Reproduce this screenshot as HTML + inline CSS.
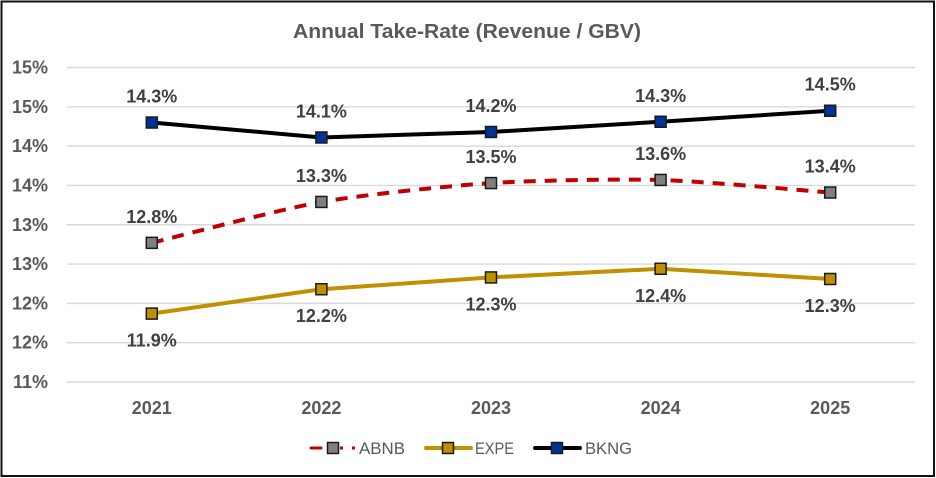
<!DOCTYPE html>
<html>
<head>
<meta charset="utf-8">
<style>
html,body{margin:0;padding:0;background:#fff;}
svg{display:block;font-family:"Liberation Sans",sans-serif;}
</style>
</head>
<body>
<svg id="chart" width="936" height="478" viewBox="0 0 936 478" xmlns="http://www.w3.org/2000/svg">
<rect x="1.5" y="1.5" width="932.5" height="474.5" fill="#fff" stroke="#111" stroke-width="2"/>
<text x="467" y="38" text-anchor="middle" font-size="20.5" font-weight="bold" fill="#595959" textLength="348" lengthAdjust="spacingAndGlyphs">Annual Take-Rate (Revenue / GBV)</text>
<g id="grid"></g>
<g id="series"></g>
<g id="labels"></g>
<g id="legend"></g>
</svg>
<script>
const categories = ['2021', '2022', '2023', '2024', '2025'];
const yTicks = [11, 11.5, 12, 12.5, 13, 13.5, 14, 14.5, 15];
const yTickLabels = ['11%', '12%', '12%', '13%', '13%', '14%', '14%', '15%', '15%'];
const abnbValues = [12.77, 13.29, 13.53, 13.57, 13.41];
const expeValues = [11.87, 12.18, 12.33, 12.44, 12.31];
const bkngValues = [14.30, 14.11, 14.18, 14.31, 14.45];
const abnbLabels = ['12.8%', '13.3%', '13.5%', '13.6%', '13.4%'];
const expeLabels = ['11.9%', '12.2%', '12.3%', '12.4%', '12.3%'];
const bkngLabels = ['14.3%', '14.1%', '14.2%', '14.3%', '14.5%'];

const NS = 'http://www.w3.org/2000/svg';
const plotLeft = 67, plotRight = 915, plotTop = 67.5, plotBottom = 382;
const yMin = yTicks[0], yMax = yTicks[yTicks.length - 1];
function xScale(i) { return plotLeft + (plotRight - plotLeft) * (i + 0.5) / categories.length; }
function yScale(v) { return plotBottom - (v - yMin) / (yMax - yMin) * (plotBottom - plotTop); }
function mk(tag, attrs, parent, txt) {
  const el = document.createElementNS(NS, tag);
  for (const k in attrs) el.setAttribute(k, attrs[k]);
  if (txt !== undefined) el.textContent = txt;
  parent.appendChild(el);
  return el;
}
function linePath(vals, tension) {
  const p = vals.map((v, i) => [xScale(i), yScale(v)]);
  let d = 'M' + p[0][0] + ' ' + p[0][1];
  for (let i = 0; i < p.length - 1; i++) {
    const a = p[Math.max(i - 1, 0)], b = p[i], c = p[i + 1], e = p[Math.min(i + 2, p.length - 1)];
    const c1x = b[0] + (c[0] - a[0]) * tension, c1y = b[1] + (c[1] - a[1]) * tension;
    const c2x = c[0] - (e[0] - b[0]) * tension, c2y = c[1] - (e[1] - b[1]) * tension;
    d += ' C' + c1x + ' ' + c1y + ' ' + c2x + ' ' + c2y + ' ' + c[0] + ' ' + c[1];
  }
  return d;
}
const grid = document.getElementById('grid');
yTicks.forEach((t, i) => {
  const line = mk('line', {x1: plotLeft, x2: plotRight, y1: yScale(t), y2: yScale(t), stroke: '#d9d9d9', 'stroke-width': 1.4}, grid);
  
  
  const lab = mk('text', {x: 48, y: yScale(t) + 6, 'text-anchor': 'end', 'font-size': 18, 'font-weight': 'bold', fill: '#595959'}, grid, yTickLabels[i]);
  
  
});
categories.forEach((c, i) => {
  const lab = mk('text', {x: xScale(i), y: 414, 'text-anchor': 'middle', 'font-size': 18, 'font-weight': 'bold', fill: '#595959'}, grid, c);
  
  
});
const seriesGroup = document.getElementById('series');
const labelsGroup = document.getElementById('labels');
function drawSeries(name, vals, printed, color, fill, dash, offset, tension) {
  const path = mk('path', {d: linePath(vals, tension), fill: 'none', stroke: color, 'stroke-width': 4}, seriesGroup);
  if (dash) path.setAttribute('stroke-dasharray', dash);
  
  
  vals.forEach((v, i) => {
    const m = mk('rect', {x: xScale(i) - 5.5, y: yScale(v) - 5.5, width: 11, height: 11, fill: fill, stroke: '#1a1a1a', 'stroke-width': 1.5}, seriesGroup);
    
    
    const t = mk('text', {x: xScale(i), y: yScale(v) + offset, 'text-anchor': 'middle', 'font-size': 18, 'font-weight': 'bold', fill: '#404040'}, labelsGroup, printed[i]);
    
    
  });
}
drawSeries('abnb', abnbValues, abnbLabels, '#c00000', '#7f7f7f', '12 9', -20, 0.12);
drawSeries('expe', expeValues, expeLabels, '#bf9000', '#bf9000', null, 33, 0);
drawSeries('bkng', bkngValues, bkngLabels, '#000000', '#003399', null, -20, 0);

const legend = document.getElementById('legend');
function legendEntry(name, text, x1, x2, mx, tx, tw, color, fill) {
  const g = mk('g', {}, legend);
  
  
  if (name === 'abnb') {
    mk('line', {x1: x1, x2: 321, y1: 448, y2: 448, stroke: color, 'stroke-width': 3, 'stroke-linecap': 'round'}, g);
    mk('line', {x1: 340, x2: 343, y1: 448, y2: 448, stroke: color, 'stroke-width': 3}, g);
    mk('line', {x1: 352, x2: 355, y1: 448, y2: 448, stroke: color, 'stroke-width': 3}, g);
  } else {
    mk('line', {x1: x1, x2: x2, y1: 448, y2: 448, stroke: color, 'stroke-width': 4, 'stroke-linecap': 'round'}, g);
  }
  mk('rect', {x: mx - 5.5, y: 442.5, width: 11, height: 11, fill: fill, stroke: '#1a1a1a', 'stroke-width': 1.5}, g);
  mk('text', {x: tx, y: 454, 'font-size': 17, fill: '#595959', textLength: tw, lengthAdjust: 'spacingAndGlyphs'}, g, text);
}
legendEntry('abnb', 'ABNB', 311, 343, 333, 359, 46, '#c00000', '#7f7f7f');
legendEntry('expe', 'EXPE', 426, 471, 448, 475, 39, '#bf9000', '#bf9000');
legendEntry('bkng', 'BKNG', 535, 580, 557, 585, 47, '#000000', '#003399');
</script>
</body>
</html>
